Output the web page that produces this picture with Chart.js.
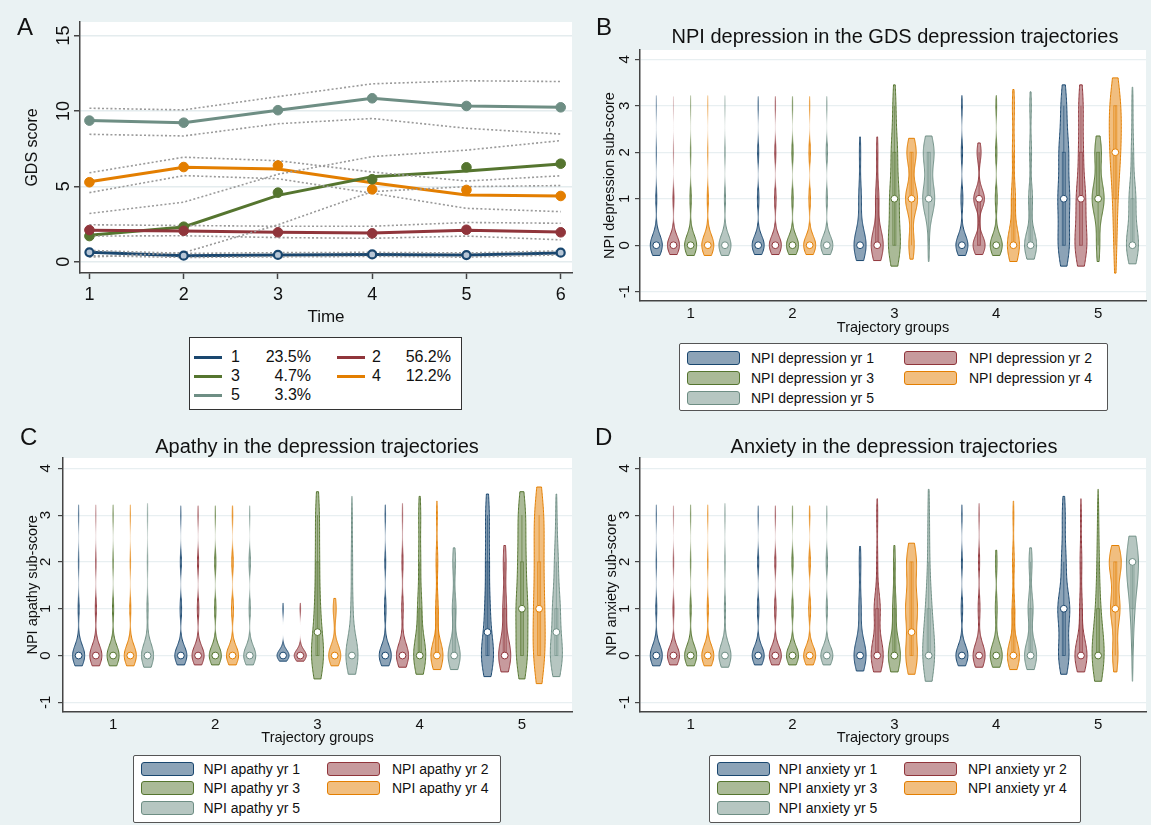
<!DOCTYPE html>
<html lang="en">
<head>
<meta charset="UTF-8">
<title>GDS trajectories and NPI sub-scores</title>
<script src="https://cdn.jsdelivr.net/npm/chart.js"></script>
<style>
  body {
    margin: 0;
    width: 1151px;
    height: 825px;
    position: relative;
    overflow: hidden;
    background: #eaf2f3;
    font-family: Arial, "Liberation Sans", sans-serif;
    color: #111;
  }
  canvas { position: absolute; }
  .abs { position: absolute; white-space: nowrap; }
  .letter { font-size: 24px; line-height: 24px; }
  .title { font-size: 20px; line-height: 20px; transform: translateX(-50%); }
  .box { background: #fff; border: 1.5px solid #555; box-sizing: border-box; border-radius: 2px; }
  .sw { height: 14px; width: 53px; box-sizing: border-box; border-radius: 3px; border: 1.5px solid; }
  .lt { font-size: 14px; line-height: 16px; }
  .la { font-size: 16px; line-height: 18px; }
</style>
</head>
<body>
<canvas id="cA" width="580" height="335" style="left:0;top:0"></canvas>
<canvas id="cB" width="571" height="340" style="left:580px;top:0"></canvas>
<canvas id="cC" width="580" height="340" style="left:0;top:410px"></canvas>
<canvas id="cD" width="571" height="340" style="left:580px;top:410px"></canvas>

<div class="abs letter" style="left:17px;top:15px">A</div>
<div class="abs letter" style="left:596px;top:15px">B</div>
<div class="abs letter" style="left:20px;top:425px">C</div>
<div class="abs letter" style="left:595px;top:425px">D</div>
<div class="abs title" style="left:895px;top:26px">NPI depression in the GDS depression trajectories</div>
<div class="abs title" style="left:317px;top:436px">Apathy in the depression trajectories</div>
<div class="abs title" style="left:894px;top:436px">Anxiety in the depression trajectories</div>

<script>
// ---------- Panel A: GDS trajectory groups ----------
const times = [1, 2, 3, 4, 5, 6];
const trajNames = ['1', '2', '3', '4', '5'];
const trajPct = ['23.5%', '56.2%', '4.7%', '12.2%', '3.3%'];
const trajColors = ['#1a476f', '#90353b', '#55752f', '#e37e00', '#6e8e84'];

// predicted trajectory (solid line)
const gdsFitted = [
  [0.62, 0.40, 0.45, 0.48, 0.44, 0.58],
  [2.08, 2.04, 1.95, 1.90, 2.08, 1.97],
  [1.75, 2.30, 4.40, 5.64, 6.02, 6.48],
  [5.30, 6.26, 6.15, 5.24, 4.43, 4.36],
  [9.36, 9.22, 10.05, 10.84, 10.33, 10.24]
];
// observed group means (markers)
const gdsObserved = [
  [0.62, 0.40, 0.45, 0.48, 0.44, 0.60],
  [2.10, 2.05, 1.95, 1.88, 2.12, 1.95],
  [1.70, 2.32, 4.58, 5.47, 6.26, 6.50],
  [5.27, 6.28, 6.38, 4.80, 4.76, 4.36],
  [9.36, 9.22, 10.05, 10.84, 10.33, 10.24]
];
// confidence band (dotted)
const gdsUpper = [
  [0.75, 0.55, 0.60, 0.62, 0.58, 0.72],
  [2.45, 2.40, 2.35, 2.35, 2.60, 2.55],
  [3.20, 3.95, 5.80, 6.97, 7.40, 8.03],
  [5.90, 6.93, 6.70, 5.95, 5.35, 5.70],
  [10.18, 10.07, 10.95, 11.80, 12.00, 11.95]
];
const gdsLower = [
  [0.40, 0.28, 0.32, 0.35, 0.30, 0.45],
  [1.70, 1.72, 1.60, 1.55, 1.70, 1.45],
  [0.30, 0.60, 2.45, 4.65, 4.98, 5.05],
  [4.58, 5.71, 5.50, 4.54, 3.54, 3.32],
  [8.45, 8.34, 9.15, 9.50, 8.85, 8.47]
];
const gdsTicks = [0, 5, 10, 15];

// ---------- Panels B-D: violins per trajectory group and year ----------
const groups = [1, 2, 3, 4, 5];
const subTicks = [-1, 0, 1, 2, 3, 4];
const yearRgb = ['26,71,111', '144,53,59', '85,117,47', '227,126,0', '110,142,132'];

// each cell: [bandwidth, share scoring 0, 1, 2, 3]; rows = year 1..5, columns = group 1..5
const depDensity = [
  [[.22,.88,.07,.03,.02], [.2,.8,.1,.07,.03], [.33,.75,.17,.08,0], [.22,.75,.12,.08,.05], [.45,.3,.3,.25,.15]],
  [[.2,.9,.07,.02,.01], [.2,.8,.1,.07,.03], [.33,.72,.2,.08,0], [.2,.45,.4,.15,0], [.45,.4,.3,.15,.15]],
  [[.22,.85,.09,.04,.02], [.2,.8,.09,.08,.03], [.45,.4,.3,.2,.1], [.22,.75,.12,.08,.05], [.35,.15,.55,.3,0]],
  [[.22,.87,.08,.03,.02], [.2,.78,.1,.09,.03], [.3,.2,.45,.35,0], [.35,.6,.2,.1,.1], [.6,.1,.15,.35,.4]],
  [[.22,.86,.08,.04,.02], [.2,.8,.08,.09,.03], [.35,.05,.5,.45,0], [.3,.62,.2,.1,.08], [.4,.55,.3,.1,.05]]
];
const depMedian = [
  [0, 0, 0, 0, 1],
  [0, 0, 0, 1, 1],
  [0, 0, 1, 0, 1],
  [0, 0, 1, 0, 2],
  [0, 0, 1, 0, 0]
];
const apaDensity = [
  [[.22,.86,.07,.04,.03], [.2,.8,.1,.07,.03], [.12,.95,.05,0,0], [.22,.8,.1,.06,.04], [.45,.5,.2,.15,.15]],
  [[.22,.86,.08,.04,.02], [.2,.8,.1,.07,.03], [.12,.95,.05,0,0], [.25,.8,.1,.07,.03], [.35,.65,.2,.15,0]],
  [[.22,.85,.08,.04,.03], [.2,.8,.09,.08,.03], [.5,.5,.2,.15,.15], [.4,.6,.2,.1,.1], [.5,.3,.3,.2,.2]],
  [[.22,.86,.07,.04,.03], [.2,.75,.12,.09,.04], [.22,.8,.2,0,0], [.3,.7,.15,.1,.05], [.6,.3,.25,.2,.25]],
  [[.25,.85,.08,.04,.03], [.2,.8,.08,.09,.03], [.4,.75,.12,.08,.05], [.3,.65,.2,.15,0], [.45,.5,.3,.15,.05]]
];
const apaMedian = [
  [0, 0, 0, 0, 0.5],
  [0, 0, 0, 0, 0],
  [0, 0, 0.5, 0, 1],
  [0, 0, 0, 0, 1],
  [0, 0, 0, 0, 0.5]
];
const anxDensity = [
  [[.22,.86,.07,.04,.03], [.2,.8,.1,.07,.03], [.33,.75,.15,.1,0], [.22,.8,.1,.06,.04], [.4,.35,.4,.15,.1]],
  [[.2,.87,.07,.04,.02], [.2,.8,.1,.07,.03], [.35,.6,.3,.05,.05], [.25,.78,.12,.07,.03], [.35,.7,.15,.1,.05]],
  [[.22,.85,.08,.04,.03], [.2,.8,.09,.08,.03], [.35,.7,.2,.1,0], [.25,.78,.12,.1,0], [.55,.65,.2,.1,.05]],
  [[.22,.85,.08,.04,.03], [.2,.75,.12,.09,.04], [.4,.35,.35,.3,0], [.3,.7,.15,.1,.05], [.35,.2,.35,.45,0]],
  [[.25,.85,.08,.04,.03], [.2,.8,.08,.09,.03], [.55,.6,.25,.08,.07], [.3,.6,.25,.15,0], [.55,.05,.2,.75,0]]
];
const anxMedian = [
  [0, 0, 0, 0, 1],
  [0, 0, 0, 0, 0],
  [0, 0, 0, 0, 0],
  [0, 0, 0.5, 0, 1],
  [0, 0, 0, 0, 2]
];

const SLOT = 0.1685;  // distance between yearly violins inside a group (group units)
const HALF = 0.059;   // widest half-width of a violin (group units)
const FONT = 'Arial, "Liberation Sans", sans-serif';
const AXIS = '#444';

const plotBg = {
  id: 'plotBg',
  beforeDraw(chart) {
    const { ctx, chartArea: a } = chart;
    ctx.save();
    ctx.fillStyle = '#fff';
    ctx.fillRect(a.left, a.top, a.right - a.left, a.bottom - a.top);
    ctx.restore();
  }
};

// Stata-style y labels: rotated, reading upwards, centred on the tick
const rotTicks = {
  id: 'rotTicks',
  afterDraw(chart, args, opts) {
    const { ctx, scales: { y } } = chart;
    ctx.save();
    ctx.font = `${opts.size}px ${FONT}`;
    ctx.fillStyle = '#111';
    ctx.textAlign = 'center';
    ctx.textBaseline = 'middle';
    y.ticks.forEach(t => {
      ctx.save();
      ctx.translate(opts.x, y.getPixelForValue(t.value));
      ctx.rotate(-Math.PI / 2);
      ctx.fillText(String(t.value), 0, 1);
      ctx.restore();
    });
    ctx.restore();
  }
};

function drawViolin(ctx, cx, ys, d, halfW, rgb) {
  const h = d[0], p = d.slice(1);
  const seen = p.map((v, k) => v > 0 ? k : -1).filter(k => k >= 0);
  const lo = seen[0] - h, hi = seen[seen.length - 1] + h;
  const n = 140;
  const prof = [];
  for (let i = 0; i <= n; i++) {
    const v = lo + (hi - lo) * i / n;
    let w = 0;
    p.forEach((pk, k) => { w += pk * Math.exp(-0.5 * ((v - k) / h) ** 2); });
    prof.push([v, w]);
  }
  const wMax = Math.max(...prof.map(q => q[1]));
  const yB = ys.getPixelForValue(lo), yT = ys.getPixelForValue(hi);
  const edge = ctx.createLinearGradient(0, yB, 0, yT);
  ctx.beginPath();
  prof.forEach(([v, w], i) => {
    const px = halfW * w / wMax;
    edge.addColorStop(i / n, `rgba(${rgb},${Math.min(1, px / 0.45).toFixed(3)})`);
    const Y = ys.getPixelForValue(v);
    if (i === 0) ctx.moveTo(cx + px, Y); else ctx.lineTo(cx + px, Y);
  });
  for (let i = n; i >= 0; i--) {
    const [v, w] = prof[i];
    ctx.lineTo(cx - halfW * w / wMax, ys.getPixelForValue(v));
  }
  ctx.closePath();
  ctx.fillStyle = `rgba(${rgb},0.5)`;
  ctx.fill();
  ctx.strokeStyle = edge;
  ctx.lineWidth = 1;
  ctx.stroke();

  // inner box plot, kept thin
  const cum = [];
  p.reduce((s, v, k) => (cum[k] = s + v, s + v), 0);
  const tot = cum[cum.length - 1];
  const quant = f => cum.findIndex(c => c >= f * tot - 1e-9);
  const q1 = quant(0.25), q3 = quant(0.75), iqr = q3 - q1;
  const aLo = seen.find(k => k >= q1 - 1.5 * iqr);
  const aHi = seen.filter(k => k <= q3 + 1.5 * iqr).pop();
  ctx.strokeStyle = `rgba(${rgb},0.75)`;
  ctx.lineWidth = 0.8;
  if (aHi > aLo) {
    ctx.beginPath();
    ctx.moveTo(cx, ys.getPixelForValue(aLo));
    ctx.lineTo(cx, ys.getPixelForValue(aHi));
    ctx.stroke();
  }
  if (q3 > q1) {
    const t = ys.getPixelForValue(q3), b = ys.getPixelForValue(q1);
    ctx.strokeRect(cx - 1.5, t, 3, b - t);
  }
}

const violinPlugin = {
  id: 'violins',
  beforeDatasetsDraw(chart) {
    const { ctx, chartArea: a, scales: { x, y } } = chart;
    const halfW = x.getPixelForValue(1 + HALF) - x.getPixelForValue(1);
    ctx.save();
    ctx.beginPath();
    ctx.rect(a.left, a.top, a.right - a.left, a.bottom - a.top);
    ctx.clip();
    chart.data.datasets.forEach((ds, di) => {
      const meta = chart.getDatasetMeta(di);
      ds.dens.forEach((d, gi) => drawViolin(ctx, meta.data[gi].x, y, d, halfW, ds.rgb));
    });
    ctx.restore();
  }
};

function fixedTicks(vals) {
  return axis => { axis.ticks = vals.map(v => ({ value: v })); };
}

// ---------- Panel A ----------
const aSets = [];
gdsObserved.forEach((row, g) => aSets.push({
  data: times.map((t, i) => ({ x: t, y: row[i] })),
  showLine: false,
  pointRadius: g === 0 ? 4 : 4.8,
  pointBackgroundColor: g === 0 ? '#b7c6d6' : trajColors[g],
  pointBorderColor: trajColors[g],
  pointBorderWidth: g === 0 ? 2.2 : 1
}));
[gdsUpper, gdsLower].forEach(band => band.forEach(row => aSets.push({
  data: times.map((t, i) => ({ x: t, y: row[i] })),
  showLine: true,
  borderColor: '#9a9a9a',
  borderWidth: 1.6,
  borderDash: [2, 2.2],
  pointRadius: 0
})));
gdsFitted.forEach((row, g) => aSets.push({
  data: times.map((t, i) => ({ x: t, y: row[i] })),
  showLine: true,
  borderColor: trajColors[g],
  borderWidth: 3,
  pointRadius: 0
}));

new Chart(document.getElementById('cA'), {
  type: 'scatter',
  data: { datasets: aSets },
  options: {
    responsive: false,
    animation: false,
    events: [],
    layout: { padding: { top: 22, right: 8, left: 0, bottom: 0 } },
    plugins: { legend: { display: false }, tooltip: { enabled: false }, rotTicks: { x: 63, size: 18 } },
    scales: {
      x: {
        type: 'linear', min: 0.9, max: 6.12,
        afterBuildTicks: fixedTicks(times),
        afterFit: s => { s.height = 62; },
        grid: { drawOnChartArea: false, tickLength: 6, tickColor: AXIS, tickWidth: 1.5 },
        border: { color: AXIS, width: 1.5 },
        ticks: { font: { family: FONT, size: 18 }, color: '#111', padding: 5 },
        title: { display: true, text: 'Time', color: '#111', font: { family: FONT, size: 17 }, padding: { top: 0, bottom: 7 } }
      },
      y: {
        type: 'linear', min: -0.75, max: 15.9,
        afterBuildTicks: fixedTicks(gdsTicks),
        afterFit: s => { s.width = 80; },
        grid: { color: '#e4ecee', lineWidth: 1.5, tickLength: 6, tickColor: AXIS, tickWidth: 1.5 },
        border: { color: AXIS, width: 1.5 },
        ticks: { display: false },
        title: { display: true, text: 'GDS score', color: '#111', font: { family: FONT, size: 16 }, padding: { top: 23, bottom: 0 } }
      }
    }
  },
  plugins: [plotBg, rotTicks]
});

// ---------- Panels B-D ----------
function violinChart(id, dens, meds, yTitle, c) {
  return new Chart(document.getElementById(id), {
    type: 'scatter',
    data: {
      datasets: dens.map((rows, j) => ({
        data: groups.map((g, i) => ({ x: g + (j - 2) * SLOT, y: meds[j][i] })),
        dens: rows,
        rgb: yearRgb[j],
        pointRadius: 3.4,
        pointBackgroundColor: '#fff',
        pointBorderColor: `rgb(${yearRgb[j]})`,
        pointBorderWidth: 1
      }))
    },
    options: {
      responsive: false,
      animation: false,
      events: [],
      layout: { padding: { top: c.top, right: c.right, left: 0, bottom: 0 } },
      plugins: { legend: { display: false }, tooltip: { enabled: false }, rotTicks: { x: c.lx, size: 15 } },
      scales: {
        x: {
          type: 'linear', min: c.xmin, max: c.xmax,
          afterBuildTicks: fixedTicks(groups),
          afterFit: s => { s.height = c.xh; },
          grid: { drawOnChartArea: false, drawTicks: false },
          border: { color: AXIS, width: 1.5 },
          ticks: { font: { family: FONT, size: 15 }, color: '#111', padding: 4 },
          title: { display: true, text: 'Trajectory groups', color: '#111', font: { family: FONT, size: 14.5 }, padding: { top: 0, bottom: 3 } }
        },
        y: {
          type: 'linear', min: -1.2, max: c.ymax,
          afterBuildTicks: fixedTicks(subTicks),
          afterFit: s => { s.width = c.yw; },
          grid: { color: '#e8eff1', lineWidth: 1.2, tickLength: 5, tickColor: AXIS, tickWidth: 1.2 },
          border: { color: AXIS, width: 1.5 },
          ticks: { display: false },
          title: { display: true, text: yTitle, color: '#111', font: { family: FONT, size: 14.5 }, padding: { top: c.ttp, bottom: 0 } }
        }
      }
    },
    plugins: [plotBg, violinPlugin, rotTicks]
  });
}

violinChart('cB', depDensity, depMedian, 'NPI depression sub-score',
  { top: 50, right: 4, xmin: 0.503, xmax: 5.47, ymax: 4.2, xh: 39, yw: 60, lx: 44, ttp: 21.3 });
violinChart('cC', apaDensity, apaMedian, 'NPI apathy sub-score',
  { top: 48, right: 8, xmin: 0.51, xmax: 5.49, ymax: 4.22, xh: 38.3, yw: 63, lx: 45, ttp: 24.3 });
violinChart('cD', anxDensity, anxMedian, 'NPI anxiety sub-score',
  { top: 48, right: 4, xmin: 0.503, xmax: 5.47, ymax: 4.22, xh: 38.3, yw: 60, lx: 44, ttp: 23.3 });

// ---------- HTML legends ----------
function put(cls, css, text) {
  const el = document.createElement('div');
  el.className = 'abs ' + cls;
  Object.assign(el.style, css);
  if (text !== undefined) el.textContent = text;
  document.body.appendChild(el);
  return el;
}

// legend of panel A
put('box', { left: '189px', top: '337px', width: '273px', height: '73px', borderColor: '#333', borderRadius: '0' });
const aRows = [357, 376, 395];
trajNames.forEach((nm, i) => {
  const col = i % 2, r = aRows[Math.floor(i / 2)];
  put('', { left: [194, 337][col] + 'px', top: (r - 1.5) + 'px', width: '28px', height: '3px', background: trajColors[i] });
  put('la', { left: [231, 372][col] + 'px', top: (r - 9) + 'px' }, nm);
  put('la', { left: [255, 395][col] + 'px', top: (r - 9) + 'px', width: '56px', textAlign: 'right' }, trajPct[i]);
});

function violinLegend(stem, box, sw, tx, rows) {
  put('box', { left: box[0] + 'px', top: box[1] + 'px', width: box[2] + 'px', height: box[3] + 'px' });
  yearRgb.forEach((rgb, j) => {
    const col = j % 2, r = rows[Math.floor(j / 2)];
    put('sw', { left: sw[col] + 'px', top: (r - 7) + 'px', background: `rgba(${rgb},0.5)`, borderColor: `rgb(${rgb})` });
    put('lt', { left: tx[col] + 'px', top: (r - 8) + 'px' }, `NPI ${stem} yr ${j + 1}`);
  });
}
violinLegend('depression', [679, 343, 429, 68], [687, 904], [751, 969], [357.7, 378, 398]);
violinLegend('apathy', [133, 755, 368, 68], [140.6, 327], [203.5, 392], [769, 788, 808]);
violinLegend('anxiety', [709, 755, 372, 68], [716.6, 904], [778.5, 968], [769, 788, 808]);
</script>
</body>
</html>
